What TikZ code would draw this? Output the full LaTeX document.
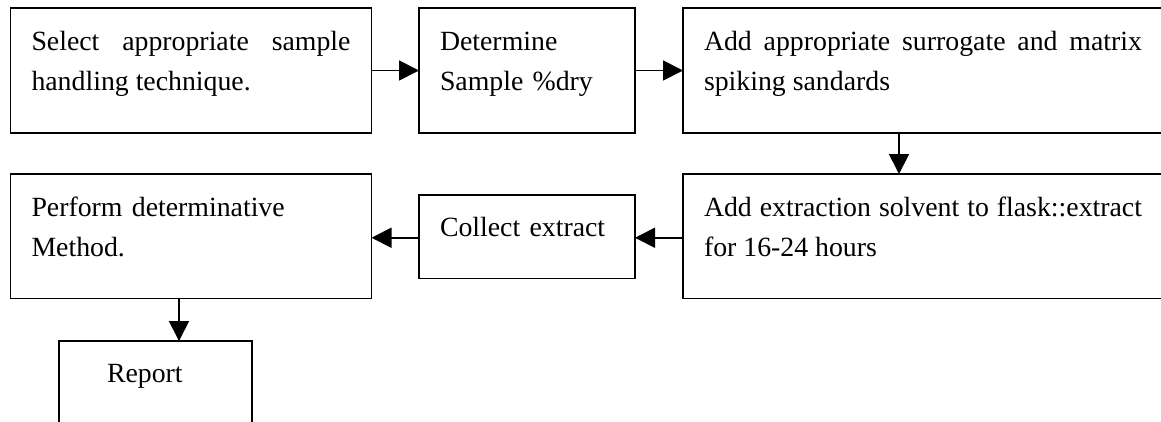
\documentclass[tikz,border=0pt]{standalone}
\usepackage{fontspec}
\setmainfont{Liberation Serif}
\usetikzlibrary{arrows.meta}
\hyphenpenalty=10000
\exhyphenpenalty=10000
\tolerance=10000
\tikzset{
  box/.style={draw, line width=1.8pt, rectangle, anchor=north west, inner ysep=0pt, inner xsep=21pt, outer sep=0pt,
    font=\fontsize{27.8pt}{40pt}\selectfont, text height=42pt},
  arr/.style={line width=1.8pt, -{Triangle[length=20pt,width=20pt]}}
}
\begin{document}
\begin{tikzpicture}[x=1pt,y=-1pt]
\useasboundingbox (0,0) rectangle (1161,421);
\clip (0,0) rectangle (1161,421);
\node[box, text width=319pt, align=justify, text depth=83pt] (b1) at (10.5,8) {Select appropriate sample handling technique.};
\node[box, text width=174pt, align=left, text depth=83pt] (b2) at (419,8) {Determine Sample \%dry};
\node[box, text width=438pt, align=justify, text depth=83pt] (b3) at (683,8) {Add appropriate surrogate and matrix spiking sandards};
\node[box, text width=438pt, align=justify, text depth=82.5pt] (b4) at (683,174) {Add extraction solvent to flask::extract for 16-24 hours};
\node[box, text width=174pt, align=left, text height=41.7pt, text depth=41.8pt] (b5) at (419,195) {Collect extract};
\node[box, text width=319pt, align=left, text depth=82.5pt] (b6) at (10.5,174) {Perform determinative Method.};
\node[box, inner xsep=48pt, text width=97pt, align=left, text height=41.7pt, text depth=100pt] (b7) at (59,341) {Report};
\draw[arr] (b1.east) -- (b2.west);
\draw[arr] (b2.east) -- (b3.west);
\draw[arr] ([xshift=216pt]b3.south west) -- ([xshift=216pt]b4.north west);
\draw[arr] ([yshift=-1pt]b5.east -| b4.west) -- ([yshift=-1pt]b5.east);
\draw[arr] ([yshift=-1pt]b5.west) -- ([yshift=-1pt]b5.west -| b6.east);
\draw[arr] ([xshift=168.5pt]b6.south west) -- ([xshift=168.5pt]b6.south west |- b7.north);
\end{tikzpicture}
\end{document}
